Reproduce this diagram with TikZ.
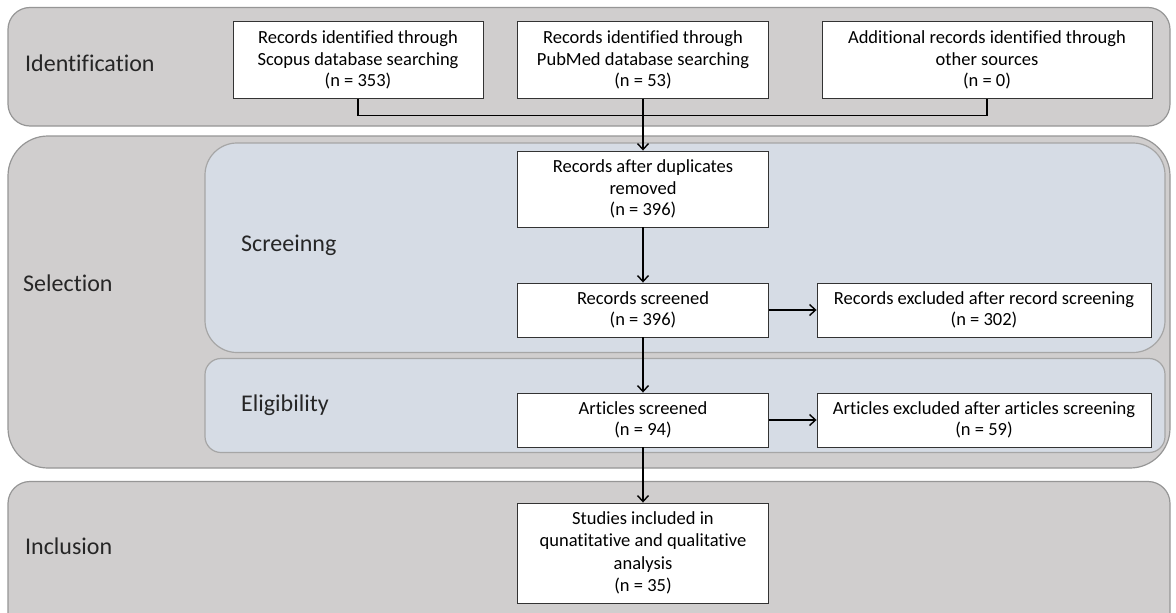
\documentclass[tikz,border=0pt]{standalone}
\usepackage{fontspec}
\setmainfont{Carlito}[Ligatures=NoCommon]
\usetikzlibrary{arrows.meta}

\definecolor{bandgray}{RGB}{208,206,206}
\definecolor{bandedge}{RGB}{150,150,150}
\definecolor{subblue}{RGB}{214,220,229}

\begin{document}
\begin{tikzpicture}[x=1pt,y=-1pt,
        band/.style={draw=bandedge,line width=1.2pt,fill=bandgray},
        subband/.style={draw=bandedge!85,line width=1.2pt,fill=subblue},
        stagebox/.style={draw=black!80,line width=0.9pt,fill=white,align=center,inner sep=2pt,
          font=\fontsize{18.5}{21.5}\selectfont},
        stagelabel/.style={anchor=west,inner sep=0pt,font=\fontsize{24}{28}\selectfont,text=black!85},
        arr/.style={line width=1.4pt,-{Straight Barb[length=6pt,width=11pt]}}]
        \clip (0,0) rectangle (1176,613);
        \fill[white] (0,0) rectangle (1176,613);

        \draw[band,rounded corners=22pt] (8,7.5) rectangle (1170,126);
        \draw[band,rounded corners=40pt] (8,136) rectangle (1170,468);
        \draw[subband,rounded corners=32pt] (205,143) rectangle (1165,352.5);
        \draw[subband,rounded corners=16pt] (205,358.5) rectangle (1165,452.5);
        \draw[band,rounded corners=22pt] (8,481.5) rectangle (1170,640);

        \node[stagelabel] (lident) at (25,63) {Identification};
        \node[stagelabel] (lsel) at (23,283) {Selection};
        \node[stagelabel] (lscr) at (241,245) {Screeinng};
        \node[stagelabel] (lelig) at (241,405) {Eligibility};
        \node[stagelabel] (lincl) at (25,546) {Inclusion};

        \node[stagebox,minimum width=250pt,minimum height=77pt] (scopus) at (358,60)
          {Records identified through\\Scopus database searching\\(n = 353)};
        \node[stagebox,minimum width=251pt,minimum height=77pt] (pubmed) at (643,60)
          {Records identified through\\PubMed database searching\\(n = 53)};
        \node[stagebox,minimum width=330pt,minimum height=77pt] (other) at (987,60)
          {Additional records identified through\\other sources\\(n = 0)};
        \node[stagebox,minimum width=251pt,minimum height=76pt] (dup) at (643,189)
          {Records after duplicates\\removed\\(n = 396)};
        \node[stagebox,minimum width=251pt,minimum height=54pt] (screened) at (643,310)
          {Records screened\\(n = 396)};
        \node[stagebox,minimum width=334pt,minimum height=54pt] (excl1) at (984,310)
          {Records excluded after record screening\\(n = 302)};
        \node[stagebox,minimum width=251pt,minimum height=54pt] (articles) at (643,420)
          {Articles screened\\(n = 94)};
        \node[stagebox,minimum width=334pt,minimum height=54pt] (excl2) at (984,420)
          {Articles excluded after articles screening\\(n = 59)};
        \node[stagebox,minimum width=251pt,minimum height=100pt,
          font=\fontsize{18.5}{22.5}\selectfont] (studies) at (643,553)
          {Studies included in\\qunatitative and qualitative\\analysis\\(n = 35)};

        \coordinate (join) at (643,115.5);
        \draw[line width=1.4pt] (scopus.south) |- (join) -| (other.south);
        \draw[arr] (pubmed.south) -- (dup.north);
        \draw[arr] (dup.south) -- (screened.north);
        \draw[arr] (screened.east) -- (excl1.west);
        \draw[arr] (screened.south) -- (articles.north);
        \draw[arr] (articles.east) -- (excl2.west);
        \draw[arr] (articles.south) -- (studies.north);
\end{tikzpicture}
\end{document}
